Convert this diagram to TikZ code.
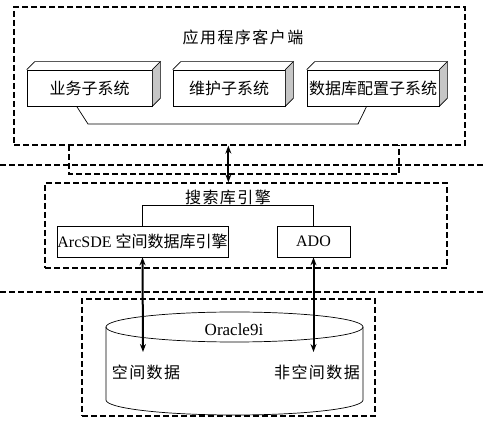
\documentclass[tikz,border=0pt]{standalone}
\usepackage{fontspec}
\setmainfont{Liberation Serif}
\newfontfamily\cjk{Noto Sans CJK SC}
\newfontfamily\cjkwide[LetterSpace=9]{Noto Sans CJK SC}
\usetikzlibrary{arrows.meta,positioning,shapes.geometric,calc}

\begin{document}
\begin{tikzpicture}[
  x=1pt, y=-1pt, >={Stealth[length=8pt,width=6pt]},
  zone/.style={draw, line width=1.3pt, dash pattern=on 6pt off 3pt, inner sep=0pt},
  divider/.style={line width=1.3pt, dash pattern=on 6pt off 3pt},
  sysbox/.style={draw, line width=0.7pt, minimum height=36pt, inner sep=0pt, font=\fontsize{16}{18}\selectfont\cjk},
  unit/.style={draw, line width=0.7pt, minimum height=31pt, inner sep=0pt, font=\fontsize{16}{18}\selectfont},
  title/.style={font=\fontsize{16}{18}\selectfont\cjkwide, inner sep=1pt},
  link/.style={line width=2pt},
]
\useasboundingbox (0,0) rectangle (485,435);

% client layer
\node[zone, minimum width=451pt, minimum height=138pt] (client) at (239.5,76) {};
\node[title] (clientT) at (243,37) {应用程序客户端};
\node[sysbox, minimum width=125pt] (sub1) at (89.5,88) {业务子系统};
\node[sysbox, minimum width=112pt] (sub2) at (229,88) {维护子系统};
\node[sysbox, minimum width=132pt] (sub3) at (373,88) {数据库配置子系统};
\foreach \b in {sub1,sub2,sub3} {
  \draw[line width=0.7pt] (\b.north west) -- ++(8,-8) -- ($(\b.north east)+(8,-8)$) -- (\b.north east);
  \draw[line width=0.7pt, fill=gray!45] (\b.north east) -- ++(8,-8) -- ($(\b.south east)+(8,-8)$) -- (\b.south east) -- cycle;
}
\draw[line width=0.7pt] ($(sub1.south west)+(50,0)$) -- (88,124) -- (358,124) -- ($(sub3.south west)+(60,0)$);

% links between layers
\draw[zone] (69,145) -- (69,174) -- (399,174) -- (399,145);
\draw[divider] (0,165) -- (485,165);
\draw[divider] (0,292) -- (485,292);

% engine layer
\node[zone, minimum width=402pt, minimum height=85pt] (search) at (246,225.5) {};
\node[title] (searchT) at (228,197) {搜索库引擎};
\node[unit, minimum width=171pt] (arcsde) at (142.5,241.5) {ArcSDE {\cjk 空间数据库引擎}};
\node[unit, minimum width=73pt] (ado) at (313.5,241.5) {ADO};
\draw[line width=0.7pt] (arcsde.north) -- ++(0,-20) -| (ado.north);
\draw[link, <->] (client.south -| arcsde.east) -- (search.north -| arcsde.east);

% database layer
\node[zone, minimum width=293pt, minimum height=117pt] (oracle) at (228.5,357.5) {};
\draw[line width=0.7pt, fill=white] (234.5,327) ellipse [x radius=128.5, y radius=15];
\draw[line width=0.7pt] (106,327) -- (106,400) arc[start angle=180, end angle=0, x radius=128.5, y radius=15] -- (363,327);
\node[font=\fontsize{17}{18}\selectfont] (dbT) at (234,330) {Oracle9i};
\node[title] (spatial) at (146,372) {空间数据};
\node[title] (attr) at (317,372) {非空间数据};
\coordinate (sdeEnd) at (143,352);
\coordinate (adoEnd) at (313.5,352);
\draw[link, <->] (arcsde.south) -- (sdeEnd);
\draw[link, <->] (ado.south) -- (adoEnd);
\end{tikzpicture}
\end{document}
